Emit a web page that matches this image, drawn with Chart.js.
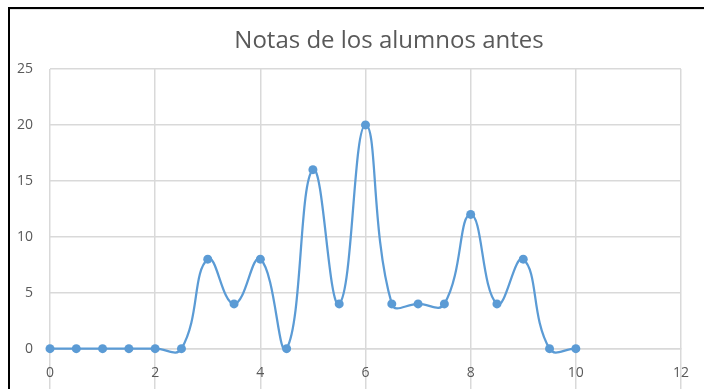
<!DOCTYPE html>
<html>
<head>
<meta charset="utf-8">
<script src="https://cdn.jsdelivr.net/npm/chart.js@4/dist/chart.umd.min.js"></script>
<style>
  html, body { margin: 0; padding: 0; background: #fff; overflow: hidden; width: 704px; height: 389px; }
  #frame {
    position: absolute; left: 8px; top: 7px; width: 900px; height: 600px;
    border-left: 2px solid #000; border-top: 2px solid #000;
  }
  #inner {
    position: absolute; left: 0; top: 0; width: 100%; height: 1px; background: #e3e3e3;
  }
  #wrap { position: absolute; left: 0; top: 0; width: 768px; height: 430px; }
</style>
</head>
<body>
<div id="frame"><div id="inner"></div></div>
<div id="wrap"><canvas id="c" width="768" height="430"></canvas></div>
<script>
// Grades (0–10 in half steps) and how many students got each one
const notas = [0, 0.5, 1, 1.5, 2, 2.5, 3, 3.5, 4, 4.5, 5, 5.5, 6, 6.5, 7, 7.5, 8, 8.5, 9, 9.5, 10];
const alumnos = [0, 0, 0, 0, 0, 0, 8, 4, 8, 0, 16, 4, 20, 4, 4, 4, 12, 4, 8, 0, 0];
const titulo = 'Notas de los alumnos antes';
const xTicks = [0, 2, 4, 6, 8, 10, 12];
const yTicks = [0, 5, 10, 15, 20, 25];

const azul = '#5b9bd5';
const gris = '#595959';
const rejilla = '#d9d9d9';
const fuente = 'Open Sans';

const puntos = notas.map((n, i) => ({ x: n, y: alumnos[i] }));

new Chart(document.getElementById('c'), {
  type: 'scatter',
  data: {
    datasets: [{
      data: puntos,
      showLine: true,
      tension: 0.45,
      borderColor: azul,
      backgroundColor: azul,
      borderWidth: 2.25,
      pointRadius: 4.5,
      pointHoverRadius: 4.5,
      pointBorderWidth: 0,
      clip: false
    }]
  },
  options: {
    responsive: false,
    animation: false,
    events: [],
    layout: { padding: { left: 10, top: 27, right: 0, bottom: 16 } },
    plugins: {
      legend: { display: false },
      tooltip: { enabled: false },
      title: {
        display: true,
        text: titulo,
        color: gris,
        font: { family: fuente, size: 24, weight: 'normal', lineHeight: 1.2 },
        padding: { top: 0, bottom: 13.2 }
      }
    },
    scales: {
      x: {
        type: 'linear',
        position: { y: 0 },
        min: 0, max: 12,
        afterBuildTicks: s => { s.ticks = xTicks.map(v => ({ value: v })); },
        ticks: { color: gris, font: { family: fuente, size: 14 }, padding: 16, maxRotation: 0 },
        grid: { color: rejilla, lineWidth: 1.5, drawTicks: false },
        border: { display: true, color: rejilla, width: 1.5 }
      },
      y: {
        type: 'linear',
        position: 'left',
        min: -5, max: 25,
        afterBuildTicks: s => { s.ticks = [-5].concat(yTicks).map(v => ({ value: v })); },
        afterFit: s => { s.width = 40; },
        ticks: {
          color: gris, font: { family: fuente, size: 14 }, padding: 17,
          callback: v => (yTicks.includes(v) ? String(v) : '')
        },
        grid: { color: rejilla, lineWidth: 1.5, drawTicks: false },
        border: { display: false }
      },
      margen: {
        type: 'linear',
        position: 'right',
        display: true,
        afterFit: s => { s.width = 87; },
        ticks: { display: false },
        grid: { display: false, drawTicks: false },
        border: { display: false }
      }
    }
  }
});
</script>
</body>
</html>
